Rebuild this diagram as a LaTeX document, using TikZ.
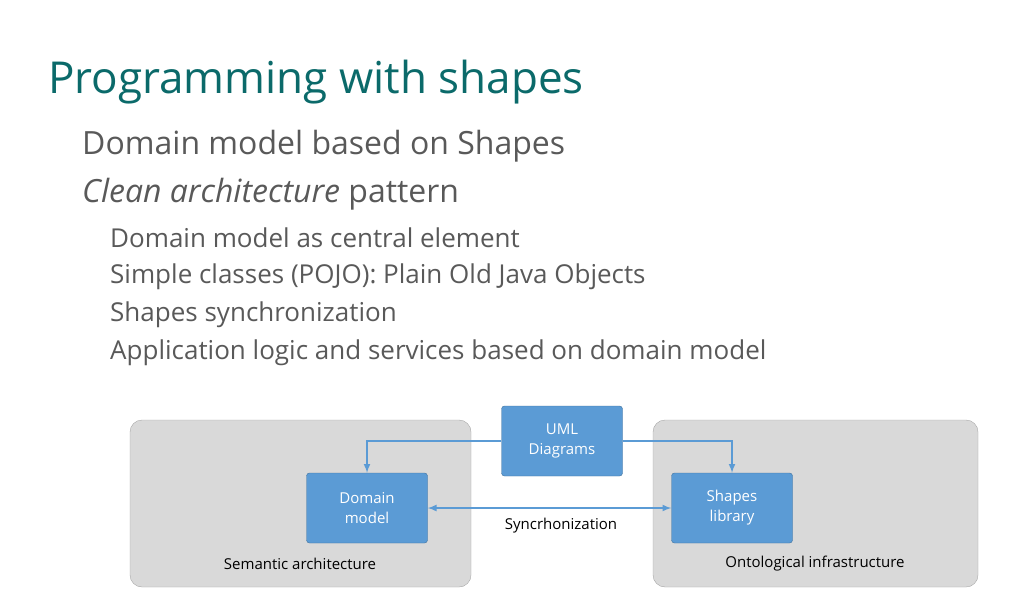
\documentclass[tikz,border=0pt]{standalone}
\usepackage{fontspec}
\setmainfont{Open Sans}
\usetikzlibrary{positioning}
\definecolor{titlecol}{HTML}{0B6A6A}
\definecolor{textcol}{HTML}{595959}
\definecolor{panelfill}{HTML}{D9D9D9}
\definecolor{panelline}{HTML}{A6A6A6}
\definecolor{bluefill}{HTML}{5B9BD5}
\definecolor{blueline}{HTML}{41719C}
\tikzset{
  panel/.style={draw=panelline, fill=panelfill, rounded corners=12pt},
  bluebox/.style={draw=blueline, fill=bluefill, rounded corners=3pt, text=white,
    minimum width=121pt, minimum height=70pt, align=center, font=\fontsize{15}{20}\selectfont},
  lvltwo/.style={anchor=west, text=textcol, font=\fontsize{32}{36}\selectfont, inner sep=0pt},
  lvlthree/.style={anchor=west, text=textcol, font=\fontsize{26}{30}\selectfont, inner sep=0pt},
  link/.style={draw=bluefill, line width=2pt, -latex},
  small/.style={font=\fontsize{15}{18}\selectfont, text=black}
}
\begin{document}
\begin{tikzpicture}[x=1pt,y=-1pt]
            \useasboundingbox (0,0) rectangle (1024,612);
            \node[anchor=west, text=titlecol, font=\fontsize{44}{50}\selectfont, inner sep=0pt] (title) at (48,82) {Programming with shapes};
            \node[lvltwo] (domain) at (82,146) {Domain model based on Shapes};
            \node[lvltwo] (clean) at (82,194) {\textit{Clean architecture} pattern};
            \node[lvlthree] (central) at (110,238) {Domain model as central element};
            \node[lvlthree] (pojo) at (110,277) {Simple classes (POJO): Plain Old Java Objects};
            \node[lvlthree] (sync) at (110,315) {Shapes synchronization};
            \node[lvlthree] (logic) at (110,353) {Application logic and services based on domain model};
            % panels
            \draw[panel] (130,420) rectangle (471,587);
            \draw[panel] (653,420) rectangle (978,587);
            \node[small] (sem) at (300,564) {Semantic architecture};
            \node[small] (onto) at (815,564) {Ontological infrastructure};
            % boxes
            \node[bluebox] (uml) at (562,441) {UML\\Diagrams};
            \node[bluebox] (dm) at (367,508) {Domain\\model};
            \node[bluebox] (lib) at (732,508) {Shapes\\library};
            \draw[link] (uml.west) -| (dm.north);
            \draw[link] (uml.east) -| (lib.north);
            \draw[link, latex-latex] (dm.east) -- (lib.west);
            \node[small] (synclabel) at (561,526) {Syncrhonization};
\end{tikzpicture}
\end{document}
